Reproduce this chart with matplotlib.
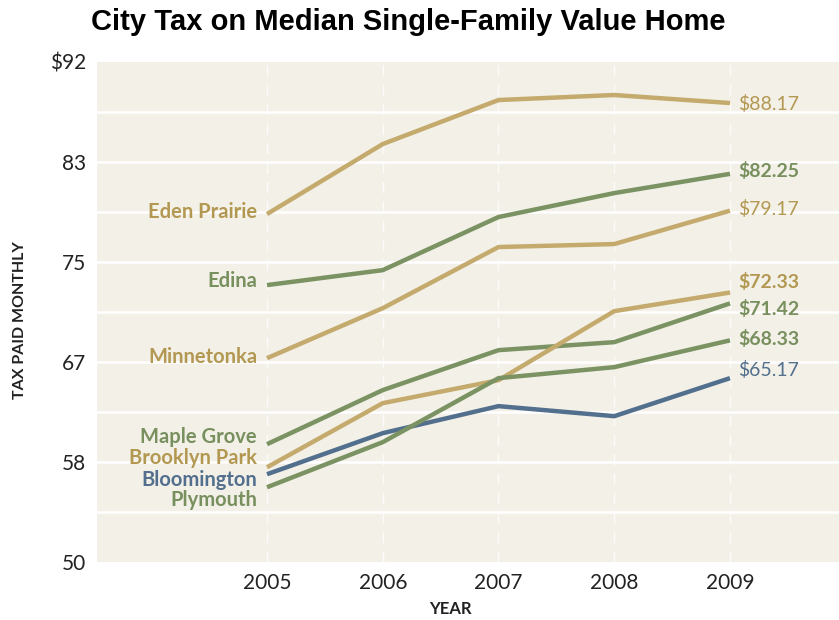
import matplotlib
matplotlib.use("Agg")
import matplotlib.pyplot as plt

# data
years = [2005, 2006, 2007, 2008, 2009]
cities = ["Eden Prairie", "Edina", "Minnetonka", "Maple Grove",
          "Brooklyn Park", "Bloomington", "Plymouth"]
eden_prairie = [78.89, 84.74, 88.42, 88.84, 88.17]
edina = [72.95, 74.20, 78.64, 80.64, 82.25]
minnetonka = [66.84, 71.02, 76.13, 76.38, 79.17]
maple_grove = [59.65, 64.17, 67.51, 68.18, 71.42]
brooklyn_park = [57.72, 63.08, 65.00, 70.77, 72.33]
bloomington = [57.14, 60.57, 62.83, 61.99, 65.17]
plymouth = [56.05, 59.82, 65.17, 66.09, 68.33]
series = [eden_prairie, edina, minnetonka, maple_grove,
          brooklyn_park, bloomington, plymouth]
ytick_labels = ["50", "58", "67", "75", "83", "$92"]

GOLD = "#C4AA6C"
GOLD_TXT = "#B39852"
GREEN = "#7B9262"
GREEN_TXT = "#788F5E"
BLUE = "#526F8D"
BG = "#F3F0E7"
colors = [GOLD, GREEN, GOLD, GREEN, GOLD, BLUE, GREEN]
txt_colors = [GOLD_TXT, GREEN_TXT, GOLD_TXT, GREEN_TXT, GOLD_TXT, BLUE, GREEN_TXT]
# label nudges in pixels (layout only)
left_dy = [2, 4, 1, 7, 9, -6, -13]
right_dy = [-1, 3, 2, -6, 11, 8, 1]
right_bold = [False, True, False, True, True, False, True]

plt.rcParams["font.family"] = ["Lato", "DejaVu Sans"]

fig = plt.figure(figsize=(8.39, 6.2), dpi=100)
ax = fig.add_axes([97 / 839, 58 / 620, 742 / 839, 500 / 620])
ax.set_facecolor(BG)

ymin, ymax = 49.8, 91.6
ax.set_ylim(ymin, ymax)
ax.set_xlim(2003.531, 2009.942)

step = (ymax - ymin) / 10
for i in range(1, 10):
    ax.axhline(ymin + i * step, color="white", lw=1.8, zorder=1)
for yr in years:
    ax.axvline(yr, color="white", lw=1.0, ls=(0, (8, 6)), alpha=0.8, zorder=1)

for vals, name, c, tc, ldy, rdy, rb in zip(series, cities, colors, txt_colors,
                                           left_dy, right_dy, right_bold):
    ax.plot(years, vals, color=c, lw=3.2, solid_capstyle="butt", zorder=3)
    ax.annotate(name, (years[0], vals[0]), xytext=(-10, ldy),
                textcoords="offset pixels", ha="right", va="center",
                fontsize=14.5, fontweight="bold", color=tc)
    ax.annotate("$%.2f" % vals[-1], (years[-1], vals[-1]), xytext=(8, rdy),
                textcoords="offset pixels", ha="left", va="center",
                fontsize=14, fontweight="bold" if rb else "normal", color=tc)

ax.set_yticks([ymin + i * 2 * step for i in range(6)])
ax.set_yticklabels(ytick_labels)
ax.set_xticks(years)
ax.set_xticklabels([str(y) for y in years])
ax.tick_params(length=0, labelsize=15, colors="#222222")
ax.tick_params(axis="y", pad=8)
ax.tick_params(axis="x", pad=8)
for s in ax.spines.values():
    s.set_visible(False)

fig.text(450 / 839, 1 - 609 / 620, "YEAR", ha="center", va="center",
         fontsize=12, fontweight="bold", color="#222222")
fig.text(20 / 839, 1 - 320 / 620, "TAX PAID MONTHLY", rotation=90,
         ha="center", va="center", fontsize=11.5, fontweight="bold", color="#222222")

fig.text(408 / 839, 1 - 22 / 620, "City Tax on Median Single-Family Value Home",
         ha="center", va="center", fontsize=21, fontweight="bold",
         family=["Liberation Sans", "DejaVu Sans"])

fig.savefig("out.png", dpi=100, facecolor="white")
